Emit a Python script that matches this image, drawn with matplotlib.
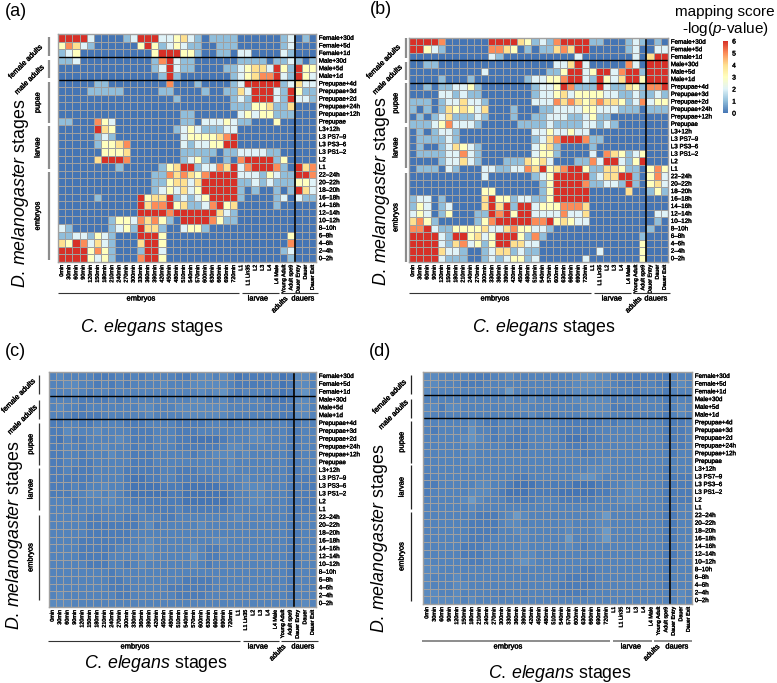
import matplotlib
matplotlib.use("Agg")
import matplotlib.pyplot as plt
import numpy as np
import matplotlib.patheffects as pe
from matplotlib.cm import ScalarMappable
from matplotlib.colors import LinearSegmentedColormap, Normalize
from matplotlib.lines import Line2D

plt.rcParams['font.family'] = ['Liberation Sans', 'DejaVu Sans']
plt.rcParams['mathtext.fontset'] = 'custom'
plt.rcParams['mathtext.rm'] = 'Liberation Sans'
plt.rcParams['mathtext.it'] = 'Liberation Sans:italic'

W, H = 777, 683

fly_stages = ["Female+30d", "Female+5d", "Female+1d", "Male+30d", "Male+5d", "Male+1d",
              "Prepupae+4d", "Prepupae+3d", "Prepupae+2d", "Prepupae+24h", "Prepupae+12h", "Prepupae",
              "L3+12h", "L3 PS7–9", "L3 PS3–6", "L3 PS1–2", "L2", "L1",
              "22–24h", "20–22h", "18–20h", "16–18h", "14–16h", "12–14h", "10–12h",
              "8–10h", "6–8h", "4–6h", "2–4h", "0–2h"]
worm_stages = ["0min", "30min", "60min", "90min", "120min", "150min", "180min", "210min", "240min",
               "270min", "300min", "330min", "360min", "390min", "420min", "450min", "480min", "510min",
               "540min", "570min", "600min", "630min", "660min", "690min", "720min",
               "L1", "L1 Lin35", "L2", "L3", "L4", "L4 Male", "Young Adult", "Adult spe9",
               "Dauer Entry", "Dauer", "Dauer Exit"]

# scores
scores_a = [
    [6,6,6,6,2,0,0,0,0,1,2,6,6,6,2,2,3,4,2,1,0,1,1,1,1,0,0,0,0,0,0,1,2,0,1,0],
    [3,5,4,2,1,0,0,0,0,0,0,3,6,3,1,2,3,2,1,1,0,0,1,1,1,0,0,0,0,0,0,1,2,0,0,0],
    [1,2,3,0,0,0,0,0,0,0,0,0,0,3,6,6,6,3,3,1,0,0,1,1,0,2,2,0,0,0,0,2,1,0,0,0],
    [1,1,2,0,0,0,0,0,0,0,0,0,0,1,5,6,2,1,1,0,0,0,0,0,0,1,1,1,1,0,1,1,2,1,0,1],
    [0,0,0,0,0,0,0,0,0,0,0,0,0,1,2,6,2,1,1,0,0,0,0,1,1,2,3,4,4,2,6,3,1,6,3,3],
    [0,0,0,0,0,0,0,0,0,0,0,0,0,0,1,6,1,0,0,0,0,0,0,0,1,2,3,4,5,5,6,2,1,6,3,2],
    [0,0,0,0,0,1,1,0,0,0,0,0,0,0,0,5,0,0,0,1,0,0,0,0,1,2,6,6,6,6,6,1,2,4,2,2],
    [0,0,0,0,1,1,1,1,1,0,0,0,0,0,1,1,0,0,0,0,1,0,0,1,1,4,2,6,6,6,2,1,6,3,1,1],
    [0,0,0,0,0,0,0,0,0,0,0,0,0,0,0,0,1,0,0,0,0,0,0,0,1,2,1,6,6,6,2,1,6,2,2,1],
    [0,0,0,0,0,0,0,0,0,0,0,0,0,0,0,0,0,0,0,0,0,0,0,0,1,1,1,3,3,4,1,1,4,0,0,0],
    [0,0,0,0,0,0,0,0,0,0,0,0,0,0,0,0,0,1,1,0,0,0,0,0,0,2,3,2,3,3,1,1,1,0,0,0],
    [1,1,0,0,0,5,3,2,0,0,0,0,0,0,0,0,0,1,1,0,2,2,2,3,2,1,1,0,0,0,3,0,0,0,0,0],
    [0,0,0,0,0,6,4,3,0,0,0,0,0,0,0,0,1,2,3,2,1,1,1,2,2,0,0,0,0,0,0,0,0,0,0,0],
    [0,0,0,0,0,1,2,1,0,0,0,0,0,0,0,0,0,2,3,3,3,3,4,5,6,0,0,0,0,0,0,0,0,0,0,0],
    [0,0,0,0,0,1,3,3,4,5,0,0,0,0,0,0,0,2,1,2,2,3,3,6,6,0,0,0,0,0,0,0,0,0,0,0],
    [0,0,0,0,0,0,3,3,3,4,0,0,0,0,0,0,0,1,1,1,1,1,0,1,1,2,2,2,2,1,1,0,0,0,0,0],
    [0,0,0,0,0,4,6,6,6,5,0,0,0,0,0,0,0,1,2,3,1,0,0,1,0,5,6,6,6,6,1,3,0,0,0,0],
    [0,0,0,0,0,0,0,0,1,0,0,0,0,0,1,3,4,6,6,1,2,2,5,4,6,2,5,6,6,6,5,1,0,6,4,5],
    [0,0,0,0,0,0,0,0,0,0,0,0,0,1,1,5,4,5,4,3,5,6,6,6,6,2,2,2,1,3,2,1,1,6,6,5],
    [0,0,0,0,0,0,0,0,0,0,0,0,0,1,1,3,4,4,2,4,6,6,6,6,6,1,1,2,1,2,1,1,1,3,3,2],
    [0,0,0,0,0,0,0,0,0,0,0,0,0,1,2,3,2,4,2,3,6,6,6,6,6,1,0,1,0,0,1,0,1,6,4,2],
    [0,0,0,0,0,1,0,0,0,0,0,6,3,4,4,6,1,2,1,2,3,6,6,6,6,1,0,0,0,0,1,2,0,2,1,1],
    [0,0,0,0,0,0,0,0,0,0,0,6,4,5,5,6,3,4,1,1,2,5,6,3,4,0,0,0,0,0,1,0,0,0,0,0],
    [0,0,0,0,0,0,0,0,0,0,0,6,6,6,6,5,6,6,6,6,6,6,4,2,1,0,0,0,0,0,0,0,0,0,0,0],
    [0,0,0,0,0,0,0,1,3,3,2,5,4,5,3,1,0,6,6,6,6,5,3,1,1,0,0,0,0,0,0,0,0,0,0,0],
    [2,1,0,0,0,0,0,1,2,3,1,6,4,4,1,0,0,2,3,3,1,0,0,0,0,0,0,0,0,0,0,0,0,0,0,0],
    [1,1,2,2,1,3,2,1,0,0,0,6,6,6,3,0,0,0,0,0,0,0,0,0,0,0,0,0,0,0,0,0,3,0,0,0],
    [4,3,6,5,2,4,2,1,0,0,0,4,6,6,3,0,0,0,0,0,0,0,0,0,0,0,0,0,0,0,0,0,5,0,0,0],
    [6,6,6,6,3,5,3,1,0,0,0,1,6,6,2,0,0,0,0,0,0,0,0,0,0,0,0,0,0,0,0,1,2,0,0,0],
    [6,6,6,6,3,2,3,1,0,0,0,5,6,6,3,0,0,0,0,0,0,0,0,0,0,0,0,0,0,0,0,0,1,0,0,0],
]

# scores
scores_b = [
    [6,6,6,6,5,0,0,0,0,0,0,6,6,6,6,4,3,1,2,1,5,6,6,6,6,1,1,0,0,0,1,2,1,0,1,0],
    [6,6,3,2,1,0,0,0,0,0,0,5,5,4,3,0,1,0,1,1,4,5,4,6,6,0,0,0,0,0,1,2,0,0,2,2],
    [0,0,0,0,0,0,0,0,0,0,0,2,1,0,0,0,0,0,0,0,0,0,0,2,0,0,0,0,0,0,0,2,0,4,6,6],
    [0,0,1,1,0,0,0,0,0,0,0,0,0,0,0,0,0,0,0,0,2,2,4,6,2,0,0,0,0,0,5,2,0,6,6,6],
    [0,0,0,0,0,0,0,0,0,0,2,0,0,0,0,0,0,0,0,1,1,3,6,6,2,3,6,6,2,5,6,6,1,6,6,6],
    [0,0,0,0,1,0,0,0,1,0,0,0,0,0,0,0,1,2,2,3,3,5,6,6,2,1,6,3,2,4,6,6,3,6,6,6],
    [0,0,1,0,1,1,2,2,3,1,0,0,0,0,0,0,0,1,2,2,3,6,5,1,1,1,6,2,1,1,4,3,1,5,5,6],
    [0,0,0,0,2,2,1,2,1,1,0,0,0,0,0,0,0,1,2,2,3,4,2,3,3,3,3,2,2,1,1,2,1,1,2,1],
    [1,1,1,0,1,2,2,4,2,2,1,0,0,0,0,0,0,2,2,2,5,4,5,4,3,4,5,4,4,3,1,2,5,2,3,3],
    [1,0,1,0,1,4,3,4,3,2,4,0,0,0,1,0,0,0,1,1,2,2,2,2,3,3,2,2,2,1,1,1,0,1,1,1],
    [0,1,0,1,2,4,1,1,1,2,1,0,0,0,1,0,0,1,1,2,2,2,1,1,2,3,1,1,0,0,0,0,0,0,0,0],
    [1,1,1,2,3,5,2,2,2,1,0,0,0,0,0,1,1,1,1,2,1,1,1,1,2,2,1,2,1,0,0,0,0,0,0,0],
    [0,1,0,1,2,2,1,0,0,0,0,0,0,0,0,0,0,2,2,3,2,2,3,2,2,0,0,0,0,0,0,0,0,0,0,0],
    [0,1,1,1,1,2,1,0,0,0,0,0,0,0,0,0,0,1,2,4,5,6,6,6,5,1,1,0,0,0,0,0,0,0,0,0],
    [0,1,0,0,1,2,4,3,2,1,0,0,0,0,0,0,0,2,3,4,1,0,0,0,0,1,0,0,0,0,0,0,0,0,0,0],
    [0,1,1,1,1,2,2,5,2,1,0,0,0,0,0,0,0,2,3,3,1,0,0,0,0,2,0,5,4,3,1,2,3,0,0,0],
    [0,0,0,0,1,2,2,4,2,1,0,0,0,1,1,1,4,3,4,2,0,0,0,1,1,5,2,6,6,2,1,3,6,0,0,0],
    [0,1,1,1,0,2,1,0,0,0,2,2,1,1,2,2,5,4,6,3,4,5,6,6,3,1,1,4,4,3,1,1,0,3,5,3],
    [0,0,0,0,0,0,0,0,0,0,2,0,0,0,0,0,0,1,2,3,6,6,6,6,6,1,2,4,4,6,6,1,0,3,5,2],
    [0,0,0,0,0,0,0,0,0,0,0,0,0,0,0,0,0,0,1,3,6,6,6,6,5,1,1,2,2,1,6,1,0,3,4,2],
    [0,0,0,0,0,0,0,0,0,0,3,3,0,0,0,0,0,0,1,3,6,6,6,6,6,0,0,0,0,0,4,0,0,1,3,1],
    [1,2,2,0,1,0,0,0,0,0,4,6,3,3,1,2,2,1,1,3,6,6,6,6,6,0,0,0,0,0,0,0,0,0,0,0],
    [1,3,2,0,1,2,0,0,0,0,4,6,4,6,1,6,6,2,3,3,3,5,5,5,4,0,0,0,0,0,0,0,0,0,0,0],
    [2,3,2,0,1,3,0,0,0,1,1,6,5,6,3,6,6,2,2,2,2,5,2,2,4,0,0,0,0,0,0,0,0,0,2,2],
    [4,5,3,1,0,0,0,0,0,1,3,5,6,6,6,6,6,5,5,6,3,4,3,2,2,0,0,0,0,0,0,0,0,0,1,0],
    [5,5,6,2,1,1,3,3,3,3,4,2,2,4,5,3,3,2,2,1,0,0,0,0,0,0,0,0,0,0,0,0,0,1,0,0],
    [6,6,6,6,2,1,6,6,3,4,2,3,6,6,6,3,1,5,1,0,0,0,0,0,0,0,0,0,0,0,0,0,1,0,0,0],
    [6,6,6,6,2,1,4,5,2,3,1,3,6,6,4,4,2,2,0,0,0,0,0,0,0,0,0,0,0,0,0,0,3,0,0,0],
    [6,6,6,6,4,2,2,1,0,0,1,2,4,4,1,2,1,1,0,0,0,0,0,0,0,0,2,0,0,0,0,0,3,0,0,0],
    [6,6,6,6,2,1,1,1,0,0,1,2,1,2,3,3,1,2,0,0,0,0,0,0,2,0,0,0,0,0,0,0,3,0,0,0],
]

# panels (c) and (d) are almost flat, so these are in tenths of a score
tenths_c = [
    [2,3,2,2,2,2,1,1,1,2,1,2,1,2,2,2,2,1,1,2,3,3,2,3,2,0,1,1,1,1,2,0,1,3,3,2],
    [2,2,3,3,2,2,1,2,1,2,1,2,2,2,2,3,2,2,2,3,3,3,3,3,2,1,1,1,1,1,2,0,1,3,3,2],
    [2,2,2,3,2,1,2,2,1,2,2,2,2,2,2,2,2,2,2,2,3,2,3,4,2,1,2,2,2,1,2,0,1,3,4,2],
    [2,2,2,2,1,1,1,1,2,1,2,2,2,2,2,2,2,2,2,3,3,2,2,3,1,2,2,2,2,1,1,0,1,3,3,2],
    [2,3,2,2,1,2,2,2,2,2,2,2,3,3,2,2,2,3,3,3,3,3,3,3,2,2,2,2,2,1,2,1,1,3,3,2],
    [2,2,2,1,1,1,1,2,2,2,2,2,2,3,2,2,2,2,3,3,3,3,3,3,2,2,2,2,2,2,2,1,1,3,3,2],
    [1,1,2,2,1,1,2,2,2,2,1,1,1,2,2,2,2,1,1,1,1,2,2,2,1,2,2,2,2,2,2,2,1,1,2,2],
    [1,1,3,2,2,2,3,2,2,2,2,1,1,1,2,2,2,1,1,1,2,2,2,2,2,2,2,3,3,2,2,2,1,1,2,2],
    [1,0,2,1,1,2,2,2,2,3,2,1,1,1,2,2,2,1,1,0,0,0,0,1,2,2,2,3,3,2,2,2,1,1,2,2],
    [1,1,2,2,1,2,2,3,2,2,2,1,2,1,2,2,2,1,1,1,1,1,1,2,3,3,2,2,2,2,2,2,1,1,2,2],
    [1,1,2,2,1,2,2,2,3,2,2,1,1,1,2,2,2,2,2,1,2,2,3,3,3,2,3,2,2,2,2,2,1,1,2,2],
    [1,1,2,2,1,1,2,2,2,2,2,1,1,1,2,2,2,2,2,2,2,2,2,2,3,2,2,2,2,2,2,2,1,1,2,2],
    [1,1,2,1,1,1,2,2,2,2,1,1,1,1,1,2,2,1,1,1,2,2,2,2,3,2,2,2,2,2,2,2,1,1,2,2],
    [1,1,1,1,1,1,2,2,2,2,1,0,0,1,1,2,2,1,1,1,1,1,2,2,2,2,3,2,2,2,2,2,1,1,1,1],
    [1,1,1,2,1,2,2,3,2,2,1,0,0,0,0,1,1,1,0,0,0,0,0,1,1,2,3,3,3,2,2,2,1,1,1,1],
    [1,1,1,2,2,3,3,2,3,2,1,0,0,0,0,0,1,1,0,0,0,0,0,0,1,2,2,3,3,2,2,2,1,1,1,1],
    [2,2,2,1,2,2,2,3,3,2,2,1,1,1,1,1,1,1,0,0,0,0,0,0,1,2,2,3,3,2,2,2,1,1,1,1],
    [2,2,2,2,2,2,2,2,2,2,2,2,2,1,1,1,1,2,1,1,1,1,1,1,2,2,2,2,2,2,2,2,1,1,1,1],
    [2,2,2,2,2,1,1,2,2,2,1,1,2,2,2,1,1,2,2,2,2,2,2,2,2,3,2,2,2,2,2,2,1,1,2,2],
    [2,2,2,2,2,1,1,1,1,1,1,1,2,3,1,2,2,2,2,2,3,2,2,2,2,2,2,2,2,2,2,2,1,1,2,2],
    [2,2,2,2,2,1,1,1,1,1,1,2,2,2,2,2,2,2,2,2,2,2,2,2,2,2,2,2,2,2,2,2,1,1,2,2],
    [2,2,2,2,1,1,1,1,1,1,1,2,2,3,2,2,2,2,2,2,2,2,3,3,2,2,2,2,2,2,2,2,1,1,2,2],
    [2,2,2,2,1,1,1,1,1,2,2,2,3,3,2,2,2,2,2,3,2,1,1,2,2,2,2,2,2,2,2,2,1,1,2,2],
    [2,2,2,2,1,1,1,1,2,2,2,2,2,3,2,2,2,2,2,4,2,1,1,2,2,2,2,2,2,2,2,2,1,1,2,2],
    [2,2,2,2,2,1,1,1,2,2,1,2,3,2,2,2,2,2,2,3,2,1,2,2,2,2,2,2,2,2,2,2,1,1,2,2],
    [2,2,2,2,2,2,2,2,1,2,2,2,2,2,2,2,2,2,2,2,2,2,2,2,2,2,2,2,2,2,2,2,1,2,2,2],
    [2,2,2,2,2,2,2,2,1,1,2,2,2,2,2,2,2,2,1,1,1,1,2,2,2,2,2,2,2,2,2,2,1,2,2,2],
    [2,2,2,2,2,2,2,2,1,1,1,2,2,2,2,2,1,1,1,1,1,1,2,2,2,2,2,2,2,2,2,2,1,2,2,2],
    [2,3,2,2,2,2,2,2,2,1,1,2,2,2,2,2,2,1,1,1,1,2,2,2,2,2,2,2,2,2,2,2,1,2,2,2],
    [3,3,3,2,2,2,2,2,2,2,2,2,2,2,2,2,2,2,2,2,2,2,2,2,2,2,2,2,2,2,2,2,2,2,3,2],
]
tenths_d = [
    [3,3,2,2,2,2,1,1,1,2,2,3,2,2,2,2,2,2,2,2,3,4,4,3,3,1,1,1,1,1,1,1,1,2,2,2],
    [3,3,2,2,2,1,1,1,2,2,2,2,2,2,2,2,2,2,2,2,3,3,3,3,3,2,1,1,1,2,2,1,1,2,3,2],
    [3,2,2,2,2,2,2,2,2,2,2,5,2,2,2,2,2,2,2,2,3,3,3,3,2,2,2,2,1,2,2,2,1,2,2,2],
    [2,2,2,2,2,2,2,2,2,2,2,3,2,2,3,2,2,2,2,2,3,3,3,3,3,1,2,2,2,2,2,2,1,2,2,2],
    [3,3,1,3,3,2,2,2,2,2,2,2,2,3,2,2,2,2,2,2,2,3,3,3,3,1,1,1,2,2,2,2,1,2,3,2],
    [3,2,1,2,2,2,2,2,2,2,2,2,2,2,3,2,2,2,2,2,2,3,3,3,3,2,2,2,2,2,2,2,1,2,3,2],
    [2,2,2,2,2,2,3,2,1,1,2,2,2,2,2,2,2,2,1,1,1,1,1,1,2,1,2,2,2,2,2,2,1,1,1,2],
    [2,1,2,2,2,2,4,2,2,1,2,2,1,1,2,2,2,2,1,1,1,1,1,2,2,2,2,2,2,2,2,2,1,1,1,2],
    [2,2,2,2,2,3,4,3,2,1,2,1,1,1,2,2,2,2,1,0,0,0,1,1,2,2,2,2,2,2,2,2,1,1,1,2],
    [2,2,2,2,2,2,3,2,2,2,2,1,1,1,2,2,2,2,2,1,1,1,2,2,2,2,2,2,2,2,2,2,1,1,1,2],
    [2,2,2,2,2,2,3,2,2,2,2,2,2,2,2,2,2,2,2,2,2,1,1,2,2,2,2,2,2,2,2,2,2,1,2,2],
    [2,2,2,2,2,2,3,2,2,2,2,2,2,2,2,2,2,2,2,2,2,2,2,2,3,2,2,2,2,2,2,2,2,2,2,2],
    [2,2,2,2,2,2,2,2,2,2,2,2,2,2,2,2,2,2,2,2,2,2,3,3,3,2,2,2,2,2,2,2,1,2,2,2],
    [1,2,2,2,2,2,2,2,2,2,2,2,1,1,2,2,2,2,2,2,3,4,4,3,2,2,2,2,2,2,2,2,1,1,1,1],
    [1,1,2,2,2,2,2,3,3,2,2,1,0,0,0,1,1,1,1,1,0,0,0,1,1,2,2,3,3,2,2,2,1,1,1,1],
    [1,2,2,2,2,2,3,3,3,2,1,0,0,0,1,1,1,1,0,0,0,0,0,1,1,2,2,3,3,2,2,2,1,1,1,1],
    [2,2,2,2,2,3,5,3,2,2,2,1,1,1,1,2,2,2,1,1,1,1,1,2,2,2,3,3,3,2,2,2,1,1,1,1],
    [2,2,2,2,2,2,3,2,2,2,2,2,2,2,2,2,2,2,2,2,2,2,2,2,2,2,2,2,2,2,2,2,1,1,2,2],
    [2,2,2,2,2,2,2,1,1,1,2,3,5,3,2,2,2,2,2,2,2,2,2,3,5,2,2,2,2,2,2,2,1,1,2,2],
    [2,2,2,2,2,2,1,1,1,1,2,3,3,2,2,2,2,2,2,3,2,2,2,3,3,2,2,2,2,2,2,2,1,1,2,2],
    [2,2,2,2,2,2,1,1,1,1,2,2,3,3,2,2,2,2,2,3,2,2,2,3,5,2,2,2,2,2,2,2,1,1,2,2],
    [2,2,2,2,2,2,1,1,1,2,2,2,2,3,2,2,2,2,2,5,2,2,2,3,5,2,2,2,2,2,2,2,1,1,2,2],
    [2,2,2,2,2,1,1,1,2,2,2,2,2,3,2,2,2,2,2,3,2,1,2,2,2,2,2,2,2,2,2,2,1,1,2,2],
    [2,2,2,2,2,1,1,1,2,2,2,2,3,3,3,2,2,2,2,2,2,2,2,2,2,2,2,2,2,2,2,2,1,1,2,2],
    [3,2,2,2,2,2,1,1,2,2,2,2,3,4,3,2,2,2,2,2,2,2,2,2,2,2,2,2,2,2,2,2,1,1,2,2],
    [3,3,2,2,2,2,2,2,2,2,2,2,2,2,2,2,2,2,2,2,2,1,1,2,2,2,2,2,2,2,2,2,1,2,2,2],
    [3,2,2,2,3,2,2,2,2,2,2,2,2,2,2,2,2,2,2,1,1,1,1,2,2,2,2,2,2,2,2,2,1,2,2,2],
    [3,2,2,2,3,3,2,2,2,2,2,2,2,2,2,2,2,2,1,1,1,1,1,2,2,2,2,2,2,2,2,2,1,2,2,2],
    [3,3,2,2,3,2,2,2,2,2,1,2,2,2,2,2,2,2,1,1,1,1,2,2,2,2,2,2,2,2,2,2,2,2,3,2],
    [3,3,3,3,3,2,3,2,2,2,2,2,2,2,2,2,2,2,2,2,2,2,2,2,2,2,2,2,2,2,2,2,2,2,3,2],
]

cmap = LinearSegmentedColormap.from_list(
    "pheatmap", ["#4575B4", "#91BFDB", "#E0F3F8", "#FFFFBF", "#FEE090", "#FC8D59", "#D73027"])
norm = Normalize(0, 6)
# the small labels in the reference look heavier than a plain regular weight
heavy = [pe.withStroke(linewidth=0.25, foreground='black')]


def fx(x):
    return x / W


def fy(y):
    return 1 - y / H


def label(x, y, s, size=5.0, rot=0, **kw):
    t = fig.text(fx(x), fy(y), s, fontsize=size, rotation=rot, ha='center', va='center',
                 rotation_mode='anchor', **kw)
    if size < 7:
        t.set_path_effects(heavy)


def seg(x0, y0, x1, y1, color, lw):
    fig.add_artist(Line2D([fx(x0), fx(x1)], [fy(y0), fy(y1)], color=color, lw=lw, solid_capstyle='butt'))


def heatmap(box, data):
    left, top, right, bottom = box
    ax = fig.add_axes([fx(left), fy(bottom), (right - left) / W, (bottom - top) / H])
    ax.pcolormesh(np.array(data), cmap=cmap, norm=norm, edgecolors='#a0a0a0', linewidth=0.55)
    ax.set_ylim(len(fly_stages), 0)
    ax.set_xlim(0, len(worm_stages))
    ax.yaxis.tick_right()
    ax.set_yticks(np.arange(len(fly_stages)) + 0.5, fly_stages, fontsize=4.5)
    ax.set_xticks(np.arange(len(worm_stages)) + 0.5, worm_stages, rotation=90, fontsize=3.9)
    ax.tick_params(length=0, pad=2)
    for t in ax.get_yticklabels() + ax.get_xticklabels():
        t.set_path_effects(heavy)
    ax.hlines([3, 6], 0, len(worm_stages), color='black', lw=1.0)
    ax.vlines(33, 0, len(fly_stages), color='black', lw=1.2)
    for s in ax.spines.values():
        s.set_color('#a0a0a0')
        s.set_linewidth(1.0)
    return ax


fig = plt.figure(figsize=(W / 100, H / 100), dpi=100)

heatmap((58, 34, 316, 262), scores_a)
heatmap((409, 38, 668, 262), scores_b)
heatmap((48.5, 372, 316, 607), np.array(tenths_c) / 10)
heatmap((423, 372, 692, 604), np.array(tenths_d) / 10)

# panel letters
for x, y, s in [(16, 11, "(a)"), (381, 9, "(b)"), (15, 352, "(c)"), (380, 352, "(d)")]:
    label(x, y, s, size=13)

fly_title = r"$\mathit{D.\/melanogaster}$ stages"
worm_title = r"$\mathit{C.\/elegans}$ stages"
for x, y in [(21, 193), (382, 191), (15, 535), (379, 538)]:
    label(x, y, fly_title, size=12.8, rot=90)
for x, y in [(152, 327), (544, 327), (156, 663), (560, 674)]:
    label(x, y, worm_title, size=12.8)

# left side group bars: x, female, male, pupae, larvae, embryos
side_groups = [
    (49, [(37, 56), (60, 78), (82, 123), (126, 169), (172, 260)], '#8c8c8c', 1.6),
    (406, [(38, 58), (62, 80), (83, 123), (127, 168), (173, 262)], '#8c8c8c', 1.6),
    (39, [(375, 394), (400, 419), (423, 465), (468, 510), (515, 600)], '#333333', 0.9),
    (411, [(375, 394), (399, 418), (421, 463), (465, 509), (512, 601)], '#222222', 0.9),
]
side_names = ["female adults", "male adults", "pupae", "larvae", "embryos"]
for x, spans, color, lw in side_groups:
    for y0, y1 in spans:
        seg(x, y0, x, y1, color, lw)
for dx_text, dy_f, dy_m, spans in [(38, 62, 80, side_groups[0][1]), (396, 62, 80, side_groups[1][1]),
                                   (31, 396, 420, side_groups[2][1]), (402, 397, 415, side_groups[3][1])]:
    label(dx_text - 12, dy_f, side_names[0], size=5.4, rot=45)
    label(dx_text - 8, dy_m, side_names[1], size=5.4, rot=45)
    for name, (y0, y1) in zip(side_names[2:], spans[2:]):
        label(dx_text, (y0 + y1) / 2, name, size=5.4, rot=90)

# bottom group bars and their names
bottom_groups = [
    (293, [(58, 239), (242, 279), (281, 295), (295, 318)], (141, 258, 280, 303), '#333333', 0.8),
    (293, [(409, 591), (594, 631), (633, 647), (647, 670)], (495, 612, 634, 656), '#333333', 0.8),
    (641, [(48, 240), (243, 279), (281, 295), (295, 318)], (135, 258, 278, 303), '#333333', 0.8),
    (641, [(422, 610), (613, 652), (654, 665), (665, 692)], (508, 631, 652, 677), '#8c8c8c', 1.4),
]
for y, spans, xs, color, lw in bottom_groups:
    for x0, x1 in spans:
        seg(x0, y, x1, y, color, lw)
    label(xs[0], y + 6, "embryos", size=5.4)
    label(xs[1], y + 6, "larvae", size=5.4)
    label(xs[2], y + 12, "adults", size=5.4, rot=45)
    label(xs[3], y + 6, "dauers", size=5.4)

# colour key
cax = fig.add_axes([fx(723), fy(113), 5 / W, 72 / H])
cb = fig.colorbar(ScalarMappable(norm=norm, cmap=cmap), cax=cax, ticks=range(7))
cb.outline.set_visible(False)
cb.ax.tick_params(length=0, labelsize=4.8, pad=3)
for t in cb.ax.get_yticklabels():
    t.set_path_effects(heavy)
label(725, 12, "mapping score", size=11)
label(725, 29, r"-log($\mathit{p}$-value)", size=11)

fig.savefig("out.png", dpi=100)
